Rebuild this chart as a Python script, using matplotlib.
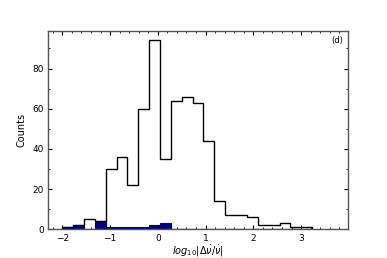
import numpy as np
import matplotlib
matplotlib.use("Agg")
import matplotlib.pyplot as plt
from matplotlib.ticker import MultipleLocator

# histogram bin edges (log10 |dnu_dot/nu_dot|)
edges = np.linspace(-2.0, 3.23, 24)
all_counts = [1, 2, 5, 4, 30, 36, 22, 60, 94, 35, 64, 66, 63, 44, 14, 7, 7, 6, 2, 2, 3, 1, 1]
sub_counts = [1, 2, 0, 4, 1, 1, 1, 1, 2, 3, 0, 0, 0, 0, 0, 0, 0, 0, 0, 0, 0, 0, 0]

fig = plt.figure(figsize=(3.87, 2.58), dpi=100)
ax = fig.add_axes([0.124, 0.111, 0.775, 0.769])

centers = (edges[:-1] + edges[1:]) / 2
ax.hist(centers, bins=edges, weights=all_counts, histtype='step', color='black', linewidth=1.0)
ax.hist(centers, bins=edges, weights=sub_counts, histtype='stepfilled', color='#000080',
        edgecolor='#000080', linewidth=0.8)

ax.set_xlim(-2.3, 3.98)
ax.set_ylim(0, 98.7)
ax.xaxis.set_major_locator(MultipleLocator(1))
ax.xaxis.set_minor_locator(MultipleLocator(0.2))
ax.yaxis.set_major_locator(MultipleLocator(20))
ax.yaxis.set_minor_locator(MultipleLocator(10))
ax.tick_params(which='both', direction='in', top=True, right=True, labelsize=6.5, pad=3)
ax.tick_params(which='major', length=3, width=0.8)
ax.tick_params(which='minor', length=1.5, width=0.6)
for s in ax.spines.values():
    s.set_color('#555555')
    s.set_linewidth(1.0)

ax.set_xlabel(r'$log_{10}|\Delta\dot{\nu}/\dot{\nu}|$', fontsize=7, labelpad=1)
ax.set_ylabel('Counts', fontsize=7, labelpad=4)
ax.text(0.985, 0.975, '(d)', transform=ax.transAxes, ha='right', va='top', fontsize=6)

fig.savefig('out.png', dpi=100)
